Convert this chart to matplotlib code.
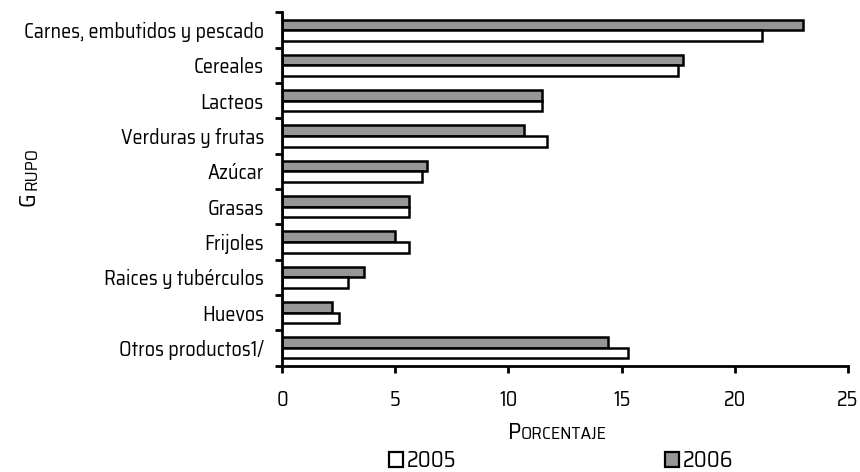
import matplotlib
matplotlib.use("Agg")
import matplotlib.pyplot as plt
from matplotlib.patches import Patch
import numpy as np

categories = ["Carnes, embutidos y pescado", "Cereales", "Lacteos", "Verduras y frutas",
              "Azúcar", "Grasas", "Frijoles", "Raices y tubérculos", "Huevos", "Otros productos1/"]
v2005 = [21.2, 17.5, 11.5, 11.7, 6.2, 5.6, 5.6, 2.9, 2.5, 15.3]
v2006 = [23.0, 17.7, 11.5, 10.7, 6.4, 5.6, 5.0, 3.6, 2.2, 14.4]
xticks = [0, 5, 10, 15, 20, 25]

FAM = ['Saira SemiCondensed', 'DejaVu Sans']
plt.rcParams['font.family'] = FAM
FS = dict(family=FAM)

fig = plt.figure(figsize=(8.6, 4.72), dpi=100)
ax = fig.add_axes([282/860, 1-365.5/472, (848-282)/860, (365.5-12.5)/472])

n = len(categories)
y = np.arange(n)
h = 0.3
ax.barh(y - h/2, v2006, height=h, color='#969696', edgecolor='black', linewidth=1.8, label='2006')
ax.barh(y + h/2, v2005, height=h, color='white', edgecolor='black', linewidth=1.8, label='2005')

ax.set_ylim(n - 0.5, -0.5)
ax.set_xlim(0, 25)
ax.set_xticks(xticks)
ax.set_xticklabels([str(t) for t in xticks], fontsize=14.5, **FS)
ax.set_yticks(y)
ax.set_yticklabels(categories, fontsize=14.5, **FS)
ax.set_yticks(np.arange(-0.5, n, 1), minor=True)
ax.tick_params(axis='y', which='major', length=0, pad=13)
ax.tick_params(axis='y', which='minor', length=5, width=2, direction='out')
ax.tick_params(axis='x', length=5, width=2, direction='out', pad=13)
for s in ['top', 'right']:
    ax.spines[s].set_visible(False)
for s in ['left', 'bottom']:
    ax.spines[s].set_linewidth(2)

# small-caps style labels
fig.text(39/860, 1-206/472, "G", rotation=90, fontsize=17, ha='right', va='bottom', **FS)
fig.text(39/860, 1-190/472, "RUPO", rotation=90, fontsize=13, ha='right', va='bottom', **FS)
fig.text(508/860, 1-439/472, "P", fontsize=17, ha='left', va='baseline', **FS)
fig.text(521/860, 1-439/472, "ORCENTAJE", fontsize=13, ha='left', va='baseline', **FS)

handles = [Patch(facecolor='white', edgecolor='black', linewidth=1.6, label='2005'),
           Patch(facecolor='#969696', edgecolor='black', linewidth=1.6, label='2006')]
leg = fig.legend(handles=handles, loc='center', bbox_to_anchor=(561/860, 1-461/472), ncol=2,
                 frameon=False, handlelength=0.65, handleheight=0.65, handletextpad=0.15,
                 columnspacing=9.4, prop=dict(family=FAM, size=16))

fig.savefig("out.png", dpi=100)
